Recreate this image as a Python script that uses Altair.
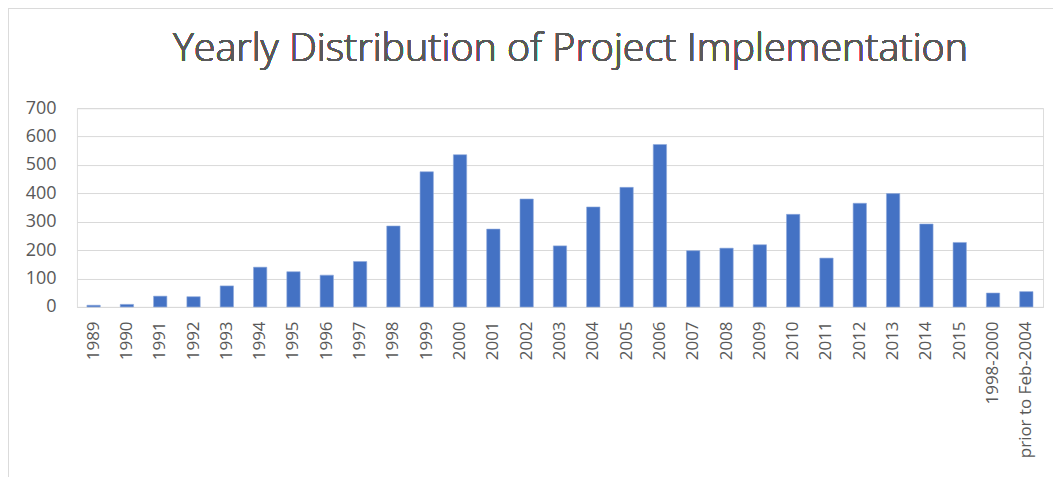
import altair as alt
import pandas as pd

categories = ["1989", "1990", "1991", "1992", "1993", "1994", "1995", "1996", "1997",
              "1998", "1999", "2000", "2001", "2002", "2003", "2004", "2005", "2006",
              "2007", "2008", "2009", "2010", "2011", "2012", "2013", "2014", "2015",
              "1998-2000", "prior to Feb-2004"]
values = [6, 9, 38, 36, 74, 140, 124, 112, 160,
          285, 476, 536, 274, 380, 215, 352, 421, 572,
          198, 207, 219, 326, 172, 365, 399, 292, 227,
          49, 54]
y_ticks = [0, 100, 200, 300, 400, 500, 600, 700]
title_text = "Yearly Distribution of Project Implementation"

df = pd.DataFrame({"category": categories, "value": values})

FONT = "Open Sans"
GRAY = "#595959"

bars = alt.Chart(df).mark_bar(color="#4472C4", stroke="#8eaadb", strokeWidth=0.6).encode(
    x=alt.X("category:N", sort=categories,
            scale=alt.Scale(paddingInner=0.6, paddingOuter=0.3),
            axis=alt.Axis(title=None, labelAngle=-90, labelAlign="right", labelBaseline="middle",
                          labelFontSize=17, labelColor=GRAY, labelFont=FONT, labelPadding=14,
                          ticks=False, domainColor="#d9d9d9", domainWidth=1, labelOverlap=False)),
    y=alt.Y("value:Q", scale=alt.Scale(domain=[0, 700], nice=False),
            axis=alt.Axis(title=None, values=y_ticks, ticks=False, domain=False,
                          labelFontSize=18, labelColor=GRAY, labelFont=FONT, labelPadding=21,
                          gridColor="#d9d9d9", gridWidth=1)),
)

title = alt.Chart(df).mark_text(
    text=title_text, font=FONT, fontSize=39.5, fontWeight=300, color=GRAY,
    align="center", baseline="alphabetic"
).encode(x=alt.value(494), y=alt.value(-47))

frame_top = alt.Chart(df).mark_rule(color="#d9d9d9", strokeWidth=1.5).encode(
    x=alt.value(-70), x2=alt.value(1000), y=alt.value(-100.5))
frame_left = alt.Chart(df).mark_rule(color="#d9d9d9", strokeWidth=1.5).encode(
    x=alt.value(-69.5), y=alt.value(-101), y2=alt.value(380))

chart = alt.layer(bars, title, frame_top, frame_left).properties(
    width=967, height=199,
    autosize=alt.AutoSizeParams(type="none"),
    padding={"left": 69, "top": 100, "right": 10, "bottom": 170},
).configure_view(stroke=None).configure(background="white")

chart.save("out.html", embed_options={"renderer": "svg", "actions": False})
